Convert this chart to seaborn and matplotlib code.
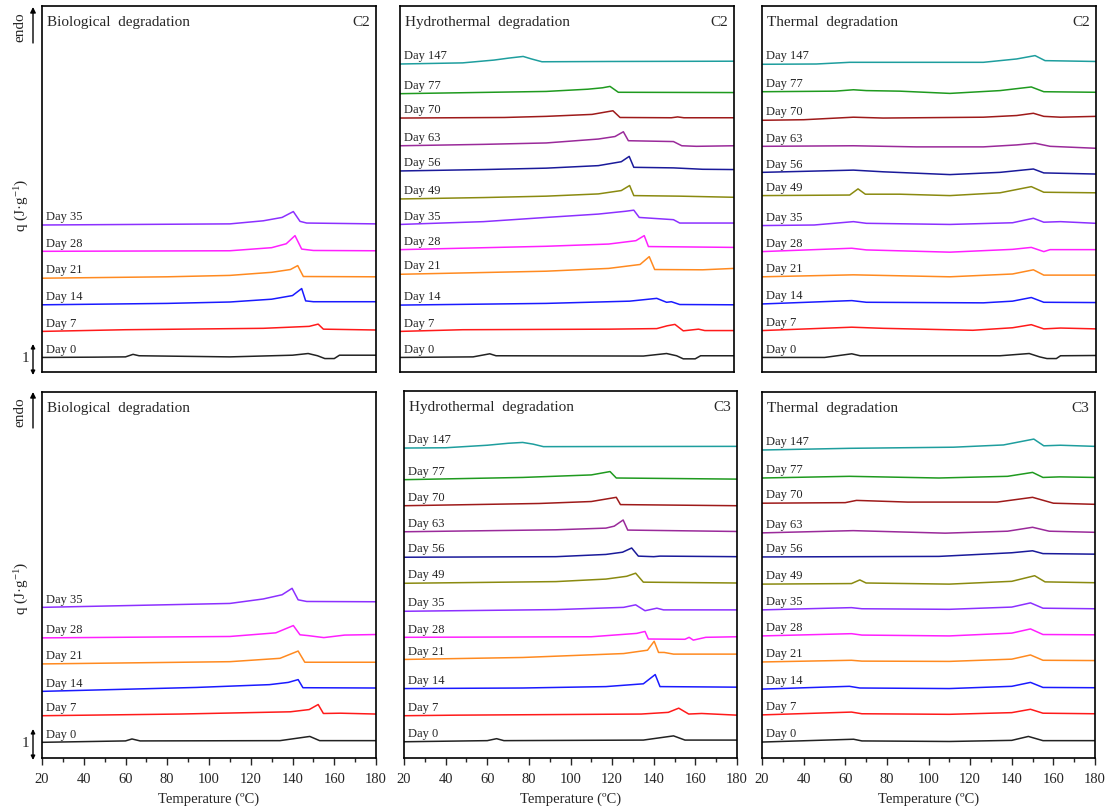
import pandas as pd
import matplotlib.pyplot as plt
import seaborn as sns
from matplotlib.ticker import MultipleLocator

sns.set_style("ticks")
plt.rcParams["font.family"] = ["Liberation Serif", "DejaVu Serif"]
plt.rcParams["mathtext.fontset"] = "custom"
plt.rcParams["mathtext.rm"] = "Liberation Serif"
plt.rcParams["mathtext.it"] = "Liberation Serif:italic"

PX_PER_UNIT = 28.0  # 1 J/g scale bar height in pixels

COLORS = {
    0: "#222222", 7: "#ff1a1a", 14: "#1a1aff", 21: "#ff8a20",
    28: "#ff20ff", 35: "#8c30ff", 49: "#8a8a10", 56: "#1a1a9a",
    63: "#9a2a9a", 70: "#9e1a1a", 77: "#1f9a1f", 147: "#1e9e9e",
}

# ---- Biological degradation, C2 ----
bio_c2_offsets = {0: 0.52, 7: 1.45, 14: 2.40, 21: 3.35, 28: 4.31, 35: 5.25}
bio_c2 = {
    0: ([20, 45, 60, 63.6, 66.5, 110, 140, 147.5, 152, 155.5, 160, 162.5, 180],
        [0, 0.01, 0.02, 0.11, 0.06, 0.02, 0.08, 0.14, 0.06, -0.04, -0.04, 0.08, 0.08]),
    7: ([20, 60, 126, 148, 152.3, 154.8, 180],
        [0, 0.06, 0.11, 0.18, 0.26, 0.08, 0.05]),
    14: ([20, 80, 110, 130, 140, 144.4, 146.3, 150, 180],
         [0, 0.05, 0.10, 0.20, 0.33, 0.58, 0.14, 0.11, 0.11]),
    21: ([20, 80, 110, 130, 139, 142.5, 145.2, 180],
         [0, 0.05, 0.10, 0.21, 0.31, 0.45, 0.06, 0.05]),
    28: ([20, 110, 130, 137, 141.2, 144.4, 150, 180],
         [0, 0.02, 0.13, 0.27, 0.56, 0.08, 0.03, 0.02]),
    35: ([20, 110, 126, 135, 140.4, 143.6, 146.8, 180],
         [0, 0.04, 0.15, 0.27, 0.48, 0.13, 0.07, 0.04]),
}

# ---- Hydrothermal degradation, C2 ----
hydro_c2_offsets = {0: 0.52, 7: 1.45, 14: 2.39, 21: 3.49, 28: 4.37, 35: 5.27,
                    49: 6.18, 56: 7.18, 63: 8.08, 70: 9.07, 77: 9.94, 147: 11.0}
hydro_c2 = {
    0: ([20, 55, 63, 66, 136.6, 147.7, 152.5, 155.7, 161.4, 164, 180],
        [0, 0.02, 0.13, 0.06, 0.05, 0.14, 0.06, -0.05, -0.05, 0.06, 0.06]),
    7: ([20, 50, 120, 143, 148, 151.7, 155.7, 163, 166, 180],
        [0, 0.06, 0.08, 0.10, 0.20, 0.25, 0.02, 0.08, 0.03, 0.03]),
    14: ([20, 90, 130, 143, 147.7, 150, 154, 180],
         [0, 0.06, 0.14, 0.24, 0.10, 0.12, 0.02, 0.01]),
    21: ([20, 90, 120, 135, 139.4, 142, 165, 180],
         [0, 0.11, 0.21, 0.35, 0.63, 0.17, 0.16, 0.21]),
    28: ([20, 90, 120, 133, 137, 139, 180],
         [0, 0.12, 0.20, 0.32, 0.50, 0.11, 0.08]),
    35: ([20, 60, 90, 115, 128, 132, 134.6, 151, 154, 180],
         [0, 0.10, 0.25, 0.37, 0.47, 0.51, 0.25, 0.17, 0.05, 0.05]),
    49: ([20, 60, 90, 115, 126, 130, 132, 154, 180],
         [0, 0.05, 0.10, 0.18, 0.30, 0.48, 0.12, 0.10, 0.06]),
    56: ([20, 60, 90, 115, 126, 129.8, 132, 151, 165, 180],
         [0, 0.05, 0.10, 0.19, 0.33, 0.52, 0.13, 0.11, 0.06, 0.05]),
    63: ([20, 60, 90, 115, 123, 127, 129.4, 151, 155, 162, 180],
         [0, 0.05, 0.10, 0.24, 0.33, 0.50, 0.18, 0.15, 0.0, -0.02, 0.0]),
    70: ([20, 70, 90, 112, 122, 125.4, 150, 153, 156, 180],
         [0, 0.02, 0.06, 0.13, 0.26, 0.02, 0.01, 0.04, 0.01, 0.01]),
    77: ([20, 90, 110, 117, 120.6, 124.6, 180],
         [0, 0.08, 0.16, 0.21, 0.26, 0.05, 0.04]),
    147: ([20, 50, 65, 72, 79, 83, 88, 120, 180],
          [0, 0.04, 0.14, 0.21, 0.27, 0.18, 0.08, 0.09, 0.10]),
}

# ---- Thermal degradation, C2 ----
thermal_c2_offsets = {0: 0.52, 7: 1.48, 14: 2.43, 21: 3.40, 28: 4.30, 35: 5.23,
                      49: 6.30, 56: 7.13, 63: 8.06, 70: 8.99, 77: 10.01, 147: 10.99}
thermal_c2 = {
    0: ([20, 50, 63, 67, 134, 148, 153, 156.5, 161, 163, 180],
        [0, 0.0, 0.13, 0.06, 0.06, 0.14, 0.02, -0.04, -0.04, 0.06, 0.07]),
    7: ([20, 63, 78, 121, 140, 149, 155, 163, 180],
        [0, 0.12, 0.08, 0.01, 0.10, 0.21, 0.06, 0.09, 0.06]),
    14: ([20, 63, 70, 126, 140, 149, 155, 180],
         [0, 0.12, 0.06, 0.04, 0.10, 0.23, 0.06, 0.05]),
    21: ([20, 63.8, 110, 140, 150, 155, 180],
         [0, 0.07, 0.0, 0.10, 0.25, 0.06, 0.06]),
    28: ([20, 63, 70, 110, 140, 149, 155, 158, 180],
         [0, 0.12, 0.06, -0.02, 0.08, 0.15, 0.0, 0.07, 0.07]),
    35: ([20, 45, 63.8, 70, 110, 140, 150, 155, 163, 180],
         [0, 0.02, 0.14, 0.08, 0.04, 0.10, 0.26, 0.12, 0.14, 0.08]),
    49: ([20, 62, 66, 69.5, 86, 110, 134, 149, 155, 180],
         [0, 0.02, 0.24, 0.05, 0.05, 0.0, 0.10, 0.32, 0.12, 0.10]),
    56: ([20, 63.8, 78, 110, 134, 150, 155, 180],
         [0, 0.08, 0.02, -0.08, 0.0, 0.12, -0.02, -0.06]),
    63: ([20, 63.8, 94, 126, 142, 150.8, 158, 180],
         [0, 0.02, -0.02, -0.02, 0.05, 0.11, 0.0, -0.07]),
    70: ([20, 40, 63.8, 78, 126, 142, 150, 155, 163, 180],
         [0, 0.02, 0.11, 0.08, 0.11, 0.17, 0.25, 0.14, 0.11, 0.14]),
    77: ([20, 55, 63.8, 70, 86, 110, 134, 149, 155, 180],
         [0, 0.02, 0.07, 0.04, 0.02, -0.06, 0.04, 0.17, 0.0, -0.02]),
    147: ([20, 46, 62, 126, 142, 150.8, 155.6, 180],
          [0, 0.01, 0.07, 0.07, 0.19, 0.31, 0.13, 0.10]),
}

# ---- Biological degradation, C3 ----
bio_c3_offsets = {0: 0.56, 7: 1.51, 14: 2.38, 21: 3.36, 28: 4.29, 35: 5.38}
bio_c3 = {
    0: ([20, 60, 63.1, 67, 134, 148.3, 153, 180],
        [0, 0.05, 0.12, 0.05, 0.06, 0.21, 0.06, 0.06]),
    7: ([20, 86, 139, 148, 152.3, 154.8, 163, 180],
        [0, 0.06, 0.14, 0.22, 0.40, 0.08, 0.09, 0.06]),
    14: ([20, 94, 129, 138, 142.7, 145, 180],
         [0, 0.14, 0.24, 0.32, 0.42, 0.13, 0.12]),
    21: ([20, 110, 134, 142.7, 145.9, 180],
         [0, 0.08, 0.20, 0.46, 0.06, 0.06]),
    28: ([20, 110, 132, 140.4, 143.6, 147.6, 155, 165, 180],
         [0, 0.05, 0.18, 0.44, 0.11, 0.08, 0.01, 0.10, 0.12]),
    35: ([20, 110, 126, 135, 139.8, 142.7, 146.8, 180],
         [0, 0.14, 0.30, 0.45, 0.68, 0.27, 0.21, 0.20]),
}

# ---- Hydrothermal degradation, C3 ----
hydro_c3_offsets = {0: 0.58, 7: 1.51, 14: 2.48, 21: 3.52, 28: 4.31, 35: 5.24,
                    49: 6.24, 56: 7.17, 63: 8.08, 70: 9.01, 77: 9.94, 147: 11.07}
hydro_c3 = {
    0: ([20, 60, 64.5, 68, 135, 149.5, 155, 180],
        [0, 0.04, 0.11, 0.04, 0.06, 0.21, 0.06, 0.06]),
    7: ([20, 45, 134, 147, 152, 156.8, 163, 180],
        [0, 0.02, 0.06, 0.12, 0.27, 0.06, 0.08, 0.02]),
    14: ([20, 77, 117, 135, 140.7, 143, 180],
         [0, 0.02, 0.07, 0.17, 0.50, 0.07, 0.05]),
    21: ([20, 77, 125.5, 137, 140.2, 142.3, 145, 149.5, 180],
         [0, 0.07, 0.21, 0.33, 0.65, 0.25, 0.25, 0.19, 0.19]),
    28: ([20, 110, 131.8, 135.8, 137.4, 155, 157, 159, 165, 180],
         [0, 0.02, 0.14, 0.21, -0.06, -0.07, 0.0, -0.10, 0.0, 0.02]),
    35: ([20, 93, 125.5, 131.3, 135.8, 141.5, 144.7, 180],
         [0, 0.06, 0.14, 0.23, 0.02, 0.11, 0.05, 0.05]),
    49: ([20, 93, 117, 127, 131.3, 135, 180],
         [0, 0.06, 0.15, 0.25, 0.36, 0.04, 0.01]),
    56: ([20, 93, 117, 125, 129.4, 132.6, 140, 143, 180],
         [0, 0.02, 0.10, 0.18, 0.33, 0.04, 0.02, 0.04, 0.02]),
    63: ([20, 93, 117, 121, 125.3, 127.5, 180],
         [0, 0.07, 0.13, 0.20, 0.42, 0.06, 0.01]),
    70: ([20, 85, 110, 122, 124, 180],
         [0, 0.08, 0.15, 0.30, 0.04, 0.0]),
    77: ([20, 77, 110, 119, 122, 180],
         [0, 0.08, 0.17, 0.29, 0.06, 0.02]),
    147: ([20, 40, 60, 70, 77, 82, 87, 180],
          [0, 0.01, 0.10, 0.17, 0.20, 0.14, 0.05, 0.06]),
}

# ---- Thermal degradation, C3 ----
thermal_c3_offsets = {0: 0.57, 7: 1.54, 14: 2.46, 21: 3.43, 28: 4.36, 35: 5.29,
                      49: 6.21, 56: 7.18, 63: 8.04, 70: 9.10, 77: 10.0, 147: 11.0}
thermal_c3 = {
    0: ([20, 64, 68, 110, 140, 148, 155, 180],
        [0, 0.10, 0.04, 0.02, 0.06, 0.20, 0.05, 0.05]),
    7: ([20, 63, 68, 110, 140, 149, 155, 180],
        [0, 0.10, 0.04, 0.02, 0.08, 0.20, 0.06, 0.04]),
    14: ([20, 62, 67, 110, 140, 149, 155, 180],
         [0, 0.10, 0.04, 0.02, 0.10, 0.24, 0.06, 0.05]),
    21: ([20, 63, 68, 110, 140, 149, 155, 180],
         [0, 0.06, 0.03, 0.02, 0.10, 0.25, 0.06, 0.05]),
    28: ([20, 63, 68, 110, 140, 149, 155, 180],
         [0, 0.08, 0.03, 0.0, 0.10, 0.25, 0.05, 0.04]),
    35: ([20, 63, 68, 110, 140, 149, 155, 180],
         [0, 0.08, 0.04, 0.02, 0.10, 0.25, 0.06, 0.04]),
    49: ([20, 63, 67, 70, 110, 140, 151, 156, 180],
         [0, 0.02, 0.15, 0.04, 0.0, 0.10, 0.30, 0.08, 0.05]),
    56: ([20, 105, 140, 150, 155, 180],
         [0, 0.02, 0.15, 0.22, 0.12, 0.10]),
    63: ([20, 63.8, 108, 138, 150, 158, 180],
         [0, 0.08, -0.01, 0.06, 0.20, 0.06, 0.02]),
    70: ([20, 60, 65.4, 90, 133, 150, 160, 180],
         [0, 0.02, 0.10, 0.04, 0.04, 0.21, 0.0, -0.04]),
    77: ([20, 62, 105, 138, 150, 155, 163, 180],
         [0, 0.06, 0.0, 0.06, 0.20, 0.02, 0.04, 0.02]),
    147: ([20, 62, 112, 136, 150.6, 155.4, 163.4, 180],
          [0, 0.06, 0.10, 0.18, 0.39, 0.15, 0.17, 0.13]),
}

# panel: (curves, offsets, title, tag, [left, top, width, height] in pixels)
W, H = 1114, 812
panels = [
    (bio_c2, bio_c2_offsets, "Biological  degradation", "C2", [42, 7, 334, 366]),
    (hydro_c2, hydro_c2_offsets, "Hydrothermal  degradation", "C2", [400, 7, 334, 366]),
    (thermal_c2, thermal_c2_offsets, "Thermal  degradation", "C2", [762, 7, 334, 366]),
    (bio_c3, bio_c3_offsets, "Biological  degradation", "", [42, 393, 334, 366]),
    (hydro_c3, hydro_c3_offsets, "Hydrothermal  degradation", "C3", [404, 392, 333, 367]),
    (thermal_c3, thermal_c3_offsets, "Thermal  degradation", "C3", [762, 393, 333, 366]),
]

fig = plt.figure(figsize=(W / 100, H / 100), dpi=100)

for i, (curves, offsets, title, tag, (l, t, w, h)) in enumerate(panels):
    ax = fig.add_axes([l / W, 1 - (t + h) / H, w / W, h / H])
    rows = []
    for day, (temps, dq) in curves.items():
        for T, v in zip(temps, dq):
            rows.append({"T": T, "q": offsets[day] + v, "day": day})
    df = pd.DataFrame(rows)
    sns.lineplot(data=df, x="T", y="q", hue="day", palette=COLORS,
                 estimator=None, legend=False, linewidth=1.1, ax=ax)
    for day in curves:
        ax.text(22, offsets[day] + 0.1, f"Day {day}", fontsize=9,
                ha="left", va="bottom")
    ax.set_xlim(20, 180)
    ax.set_ylim(0, h / PX_PER_UNIT)
    ax.set_xlabel("")
    ax.set_ylabel("")
    ax.set_yticks([])
    for s in ax.spines.values():
        s.set_linewidth(1.2)
        s.set_color("black")
    ax.text(0.016, 0.975, title, transform=ax.transAxes, fontsize=11,
            ha="left", va="top")
    if tag:
        ax.text(0.982, 0.975, tag, transform=ax.transAxes, fontsize=11,
                ha="right", va="top")
    if i < 3:
        ax.set_xticks([])
    else:
        ax.xaxis.set_major_locator(MultipleLocator(20))
        ax.xaxis.set_minor_locator(MultipleLocator(10))
        ax.tick_params(axis="x", which="major", direction="out", length=5,
                       width=1, labelsize=10.5, pad=5)
        ax.tick_params(axis="x", which="minor", direction="out", length=3, width=1)
        ax.set_xlabel("Temperature (ºC)", fontsize=10.5, labelpad=5)


def fx(x):
    return x / W


def fy(y):
    return 1 - y / H


# left-side annotations for both rows
for dy, qy in [(0, 205), (385, 588)]:
    fig.text(fx(20), fy(27 + dy), "endo", rotation=90, fontsize=11,
             ha="center", va="center")
    fig.add_artist(plt.Annotation(
        "", xy=(fx(33), fy(8 + dy)), xytext=(fx(33), fy(44 + dy)),
        xycoords="figure fraction", textcoords="figure fraction",
        arrowprops=dict(arrowstyle="-|>", color="black", lw=1,
                        mutation_scale=8, shrinkA=0, shrinkB=0)))
    fig.text(fx(22), fy(qy), "q (J·g$^{-1}$)", rotation=90, fontsize=11,
             ha="center", va="center")
    fig.text(fx(25), fy(359 + dy), "1", fontsize=11, ha="center", va="center")
    fig.add_artist(plt.Annotation(
        "", xy=(fx(33), fy(345 + dy)), xytext=(fx(33), fy(376 + dy)),
        xycoords="figure fraction", textcoords="figure fraction",
        arrowprops=dict(arrowstyle="<|-|>", color="black", lw=1,
                        mutation_scale=6, shrinkA=0, shrinkB=0)))

plt.savefig("out.png", dpi=100)
plt.close()
